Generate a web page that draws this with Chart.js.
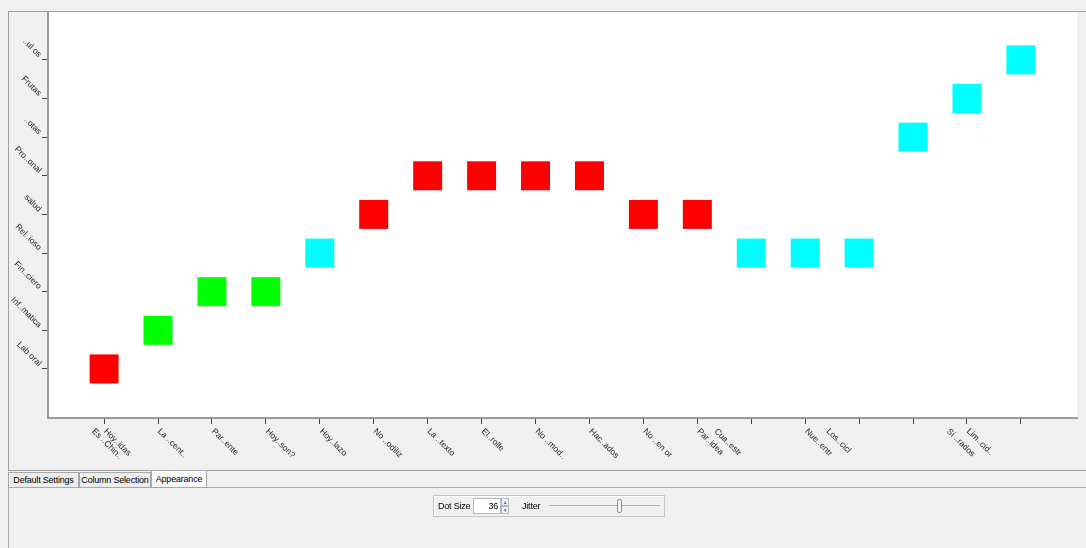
<!DOCTYPE html>
<html>
<head>
<meta charset="utf-8">
<script src="https://cdn.jsdelivr.net/npm/chart.js@4.4.0/dist/chart.umd.min.js"></script>
<style>
  body { margin: 0; width: 1086px; height: 548px; background: #f0f0f0; position: relative; overflow: hidden;
         font-family: "Liberation Sans", Arial, sans-serif; font-size: 9px; color: #000; }
  #plotPanel { position: absolute; left: 8px; top: 11px; width: 1078px; height: 460px; box-sizing: border-box;
               border: 1px solid #a0a0a0; border-right: none; }
  #chart { position: absolute; left: 0; top: 0; }
  .tab { position: absolute; top: 472px; height: 15px; box-sizing: border-box; border: 1px solid #a8a8a8;
         border-bottom: none; line-height: 14px; text-align: center; background: #ececec; white-space: nowrap;
         letter-spacing: -0.2px; overflow: hidden; }
  .tab.sel { top: 470px; height: 18px; background: #fbfbfb; line-height: 16px; }
  #tabPanel { position: absolute; left: 8px; top: 487px; width: 1078px; height: 61px; box-sizing: border-box;
              border-top: 1px solid #a8a8a8; border-left: 1px solid #a8a8a8; }
  #controls { position: absolute; left: 433px; top: 495px; width: 232px; height: 22px; box-sizing: border-box;
              border: 1px solid #c4c4c4; box-shadow: inset 1px 1px 0 #fff; white-space: nowrap; letter-spacing: -0.2px; }
  .lbl { position: absolute; top: 5px; }
  #spin { position: absolute; left: 39px; top: 2px; width: 28px; height: 16px; box-sizing: border-box;
          border: 1px solid #b8b8b8; background: #fff; text-align: right; padding-right: 2px; line-height: 14px; }
  .arrow { position: absolute; left: 67px; width: 8px; height: 8px; box-sizing: border-box; border: 1px solid #b8b8b8;
           background: #eef3f8; font-size: 5px; line-height: 6px; text-align: center; color: #4a7cc0; }
  #track { position: absolute; left: 115px; top: 9px; width: 111px; height: 1px; background: #b0b0b0; }
  #thumb { position: absolute; left: 183px; top: 3px; width: 5px; height: 14px; box-sizing: border-box;
           border: 1px solid #8a8a8a; border-radius: 2px; background: #f8f8f8; }
</style>
</head>
<body>
<div id="plotPanel"></div>
<canvas id="chart" width="1086" height="548"></canvas>

<div class="tab" style="left:8px;width:71px;">Default Settings</div>
<div class="tab" style="left:79px;width:72px;">Column Selection</div>
<div class="tab sel" style="left:151px;width:56px;">Appearance</div>
<div id="tabPanel"></div>
<div id="controls">
  <span class="lbl" style="left:4px;">Dot Size</span>
  <div id="spin">36</div>
  <div class="arrow" style="top:2px;">&#9650;</div>
  <div class="arrow" style="top:10px;">&#9660;</div>
  <span class="lbl" style="left:88px;">Jitter</span>
  <div id="track"></div>
  <div id="thumb"></div>
</div>

<script>
// category names on the y axis, bottom to top
const yLabels = ['Lab oral', 'Inf..matica', 'Fin..ciero', 'Rel..ioso', 'salud', 'Pro..onal', '..otas', 'Frutas', '..ul os'];

// one row per tick on the x axis
const rowIndex = [0, 1, 2, 3, 4, 5, 6, 7, 8, 9, 10, 11, 12, 13, 14, 15, 16, 17];
const yLevel   = [0, 1, 2, 2, 3, 4, 5, 5, 5, 5, 4, 4, 3, 3, 3, 6, 7, 8];
const colorClass = [0, 1, 1, 1, 2, 0, 0, 0, 0, 0, 0, 0, 2, 2, 2, 2, 2, 2];

// x tick labels as the plot shows them (some ticks carry two, some none)
const xLabelText = ['Es ..Chin..', 'Hoy..idas', 'La ..cent..', 'Par..ente', 'Hoy..son?', 'Hoy..lazo', 'No ..odiliz',
                    'La ..texto', 'El..rolle', 'No ..mod..', 'Hac..ados', 'No ..en or', 'Par..idea', 'Cua..estr',
                    'Nue..entr', 'Los..cicl', 'Si ..rados', 'Lim..cid..'];
const xLabelAt = [-0.22, 0, 1, 2, 3, 4, 5, 6, 7, 8, 9, 10, 11, 11.32, 13, 13.4, 15.63, 16];

const palette = ['#ff0000', '#00ff00', '#00ffff'];

const plotBackground = {
  id: 'plotBackground',
  beforeDraw(chart) {
    const a = chart.chartArea, ctx = chart.ctx;
    ctx.save();
    ctx.fillStyle = '#ffffff';
    ctx.fillRect(a.left, a.top, a.right - a.left, a.bottom - a.top);
    ctx.restore();
  }
};

// slanted tick labels (Chart.js rotates the other way)
const slantedLabels = {
  id: 'slantedLabels',
  afterDraw(chart) {
    const ctx = chart.ctx, xs = chart.scales.x, ys = chart.scales.y;
    ctx.save();
    ctx.font = '8.5px "Liberation Sans", Arial, sans-serif';
    ctx.fillStyle = '#222';
    ctx.textBaseline = 'middle';
    ctx.textAlign = 'left';
    xLabelText.forEach((t, i) => {
      const px = xs.getPixelForValue(xLabelAt[i]);
      ctx.save();
      ctx.translate(px + 1, xs.bottom + 6);
      ctx.rotate(Math.PI / 4);
      ctx.fillText(t, 0, 0);
      ctx.restore();
    });
    ctx.textAlign = 'right';
    yLabels.forEach((t, i) => {
      const py = ys.getPixelForValue(i);
      ctx.save();
      ctx.translate(ys.right - 8, py - 4);
      ctx.rotate(Math.PI / 4);
      ctx.fillText(t, 0, 0);
      ctx.restore();
    });
    ctx.restore();
  }
};

new Chart(document.getElementById('chart').getContext('2d'), {
  type: 'scatter',
  data: {
    datasets: [{
      data: rowIndex.map((x, i) => ({ x: x, y: yLevel[i] })),
      pointStyle: 'rect',
      pointRadius: 20.5,
      pointHoverRadius: 20.5,
      borderWidth: 0,
      backgroundColor: colorClass.map(c => palette[c]),
      borderColor: colorClass.map(c => palette[c])
    }]
  },
  options: {
    responsive: false,
    animation: false,
    layout: { autoPadding: false, padding: { left: 42, top: 12, right: 9, bottom: 124 } },
    plugins: { legend: { display: false }, tooltip: { enabled: false } },
    scales: {
      x: {
        type: 'linear',
        min: -1.04,
        max: 18.04,
        afterBuildTicks: s => { s.ticks = rowIndex.map(v => ({ value: v })); },
        ticks: { display: false },
        grid: { drawOnChartArea: false, drawTicks: true, tickLength: 6, color: '#444' },
        border: { display: true, color: '#9a9a9a', width: 2 }
      },
      y: {
        type: 'linear',
        min: -1.27,
        max: 9.24,
        afterBuildTicks: s => { s.ticks = yLabels.map((_, i) => ({ value: i })); },
        ticks: { display: false },
        grid: { drawOnChartArea: false, drawTicks: true, tickLength: 6, color: '#444' },
        border: { display: true, color: '#9a9a9a', width: 2 }
      }
    }
  },
  plugins: [plotBackground, slantedLabels]
});
</script>
</body>
</html>
